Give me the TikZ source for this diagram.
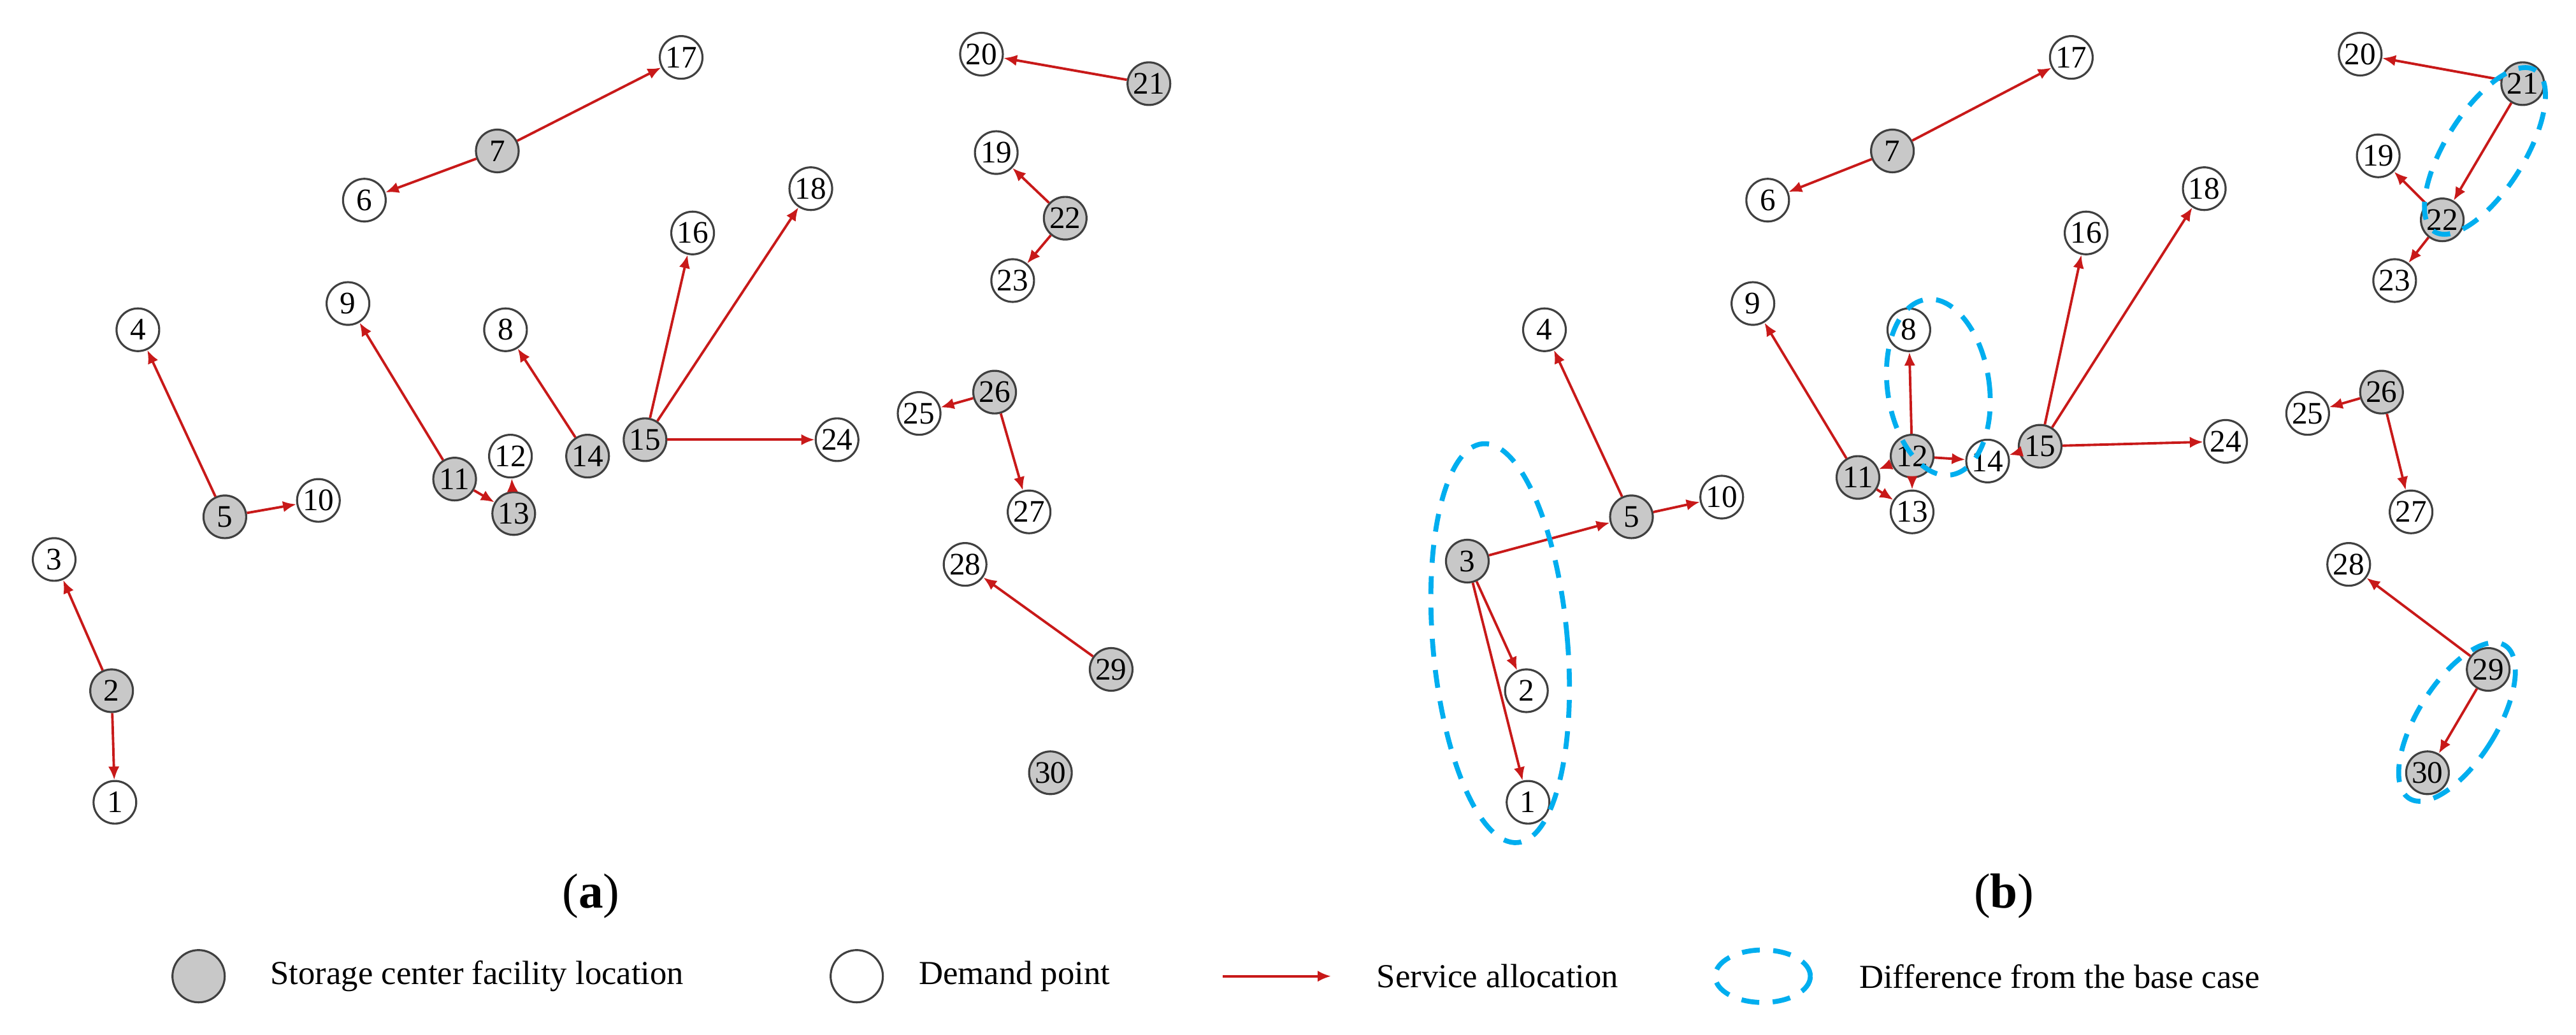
\documentclass[tikz,border=0pt]{standalone}
\usepackage{fontspec}
\setmainfont{Liberation Serif}
\usetikzlibrary{arrows.meta}
\definecolor{ared}{RGB}{200,25,25}
\definecolor{fgray}{RGB}{200,200,200}
\definecolor{dblue}{RGB}{0,174,239}
\begin{document}
\begin{tikzpicture}[x=0.02576cm,y=-0.02576cm,
  dem/.style={circle,draw=black!75,line width=0.9pt,fill=white,minimum size=0.67cm,inner sep=0pt,font=\fontsize{14}{14}\selectfont},
  fac/.style={dem,fill=fgray},
  arr/.style={draw=ared,line width=1.1pt,-{Latex[length=6pt,width=5pt]}},
  diff/.style={draw=dblue,line width=2.2pt,dash pattern=on 8pt off 6pt},
  leg/.style={anchor=west,font=\fontsize{15}{15}\selectfont}]
\useasboundingbox (0,0) rectangle (1569.5,630.8);
% panel (a)
\foreach \n/\x/\y/\s in {1/70/489/dem,2/68/421/fac,3/33/341/dem,4/84/201/dem,5/137/315/fac,6/222/122/dem,7/303/92/fac,8/308/201/dem,9/212/185/dem,10/194/305/dem,11/277/292/fac,12/311/278/dem,13/313/313/fac,14/358/278/fac,15/393/268/fac,16/422/142/dem,17/415/35/dem,18/494/115/dem,19/607/93/dem,20/598/33/dem,21/700/51/fac,22/649/133/fac,23/617/171/dem,24/510/268/dem,25/560/252/dem,26/606/239/fac,27/627/312/dem,28/588/344/dem,29/677/408/fac,30/640/471/fac}
  \node[\s] (a\n) at (\x,\y) {\n};
% panel (b)
\foreach \n/\x/\y/\s in {1/931/489/dem,2/930/421/dem,3/894/342/fac,4/941/201/dem,5/994/315/fac,6/1077/122/dem,7/1153/92/fac,8/1163/201/dem,9/1068/185/dem,10/1049/303/dem,11/1132/291/fac,12/1165/278/fac,13/1165/312/dem,14/1211/281/dem,15/1243/272/fac,16/1271/142/dem,17/1262/35/dem,18/1343/115/dem,19/1449/95/dem,20/1438/33/dem,21/1537/51/fac,22/1488/134/fac,23/1459/171/dem,24/1356/269/dem,25/1406/252/dem,26/1451/239/fac,27/1469/312/dem,28/1431/344/dem,29/1516/408/fac,30/1479/471/fac}
  \node[\s] (b\n) at (\x,\y) {\n};
% arrows (a)
\foreach \f/\t in {7/17,7/6,21/20,22/19,22/23,15/16,15/18,15/24,14/8,11/9,11/13,13/12,5/4,5/10,2/3,2/1,26/25,26/27,29/28}
  \draw[arr] (a\f) -- (a\t);
% arrows (b)
\foreach \f/\t in {7/17,7/6,21/20,21/22,22/19,22/23,15/16,15/18,15/24,15/14,12/14,12/8,12/11,12/13,11/9,11/13,3/5,3/2,3/1,5/4,5/10,26/25,26/27,29/28,29/30}
  \draw[arr] (b\f) -- (b\t);
% difference ellipses
\draw[diff] (914,392) ellipse [x radius=41, y radius=122, rotate=5];
\draw[diff] (1181,236) ellipse [x radius=31, y radius=54, rotate=8];
\draw[diff] (1514,92) ellipse [x radius=24, y radius=58, rotate=-32];
\draw[diff] (1497,440) ellipse [x radius=24, y radius=55, rotate=-32];
% panel labels
\node[font=\fontsize{22}{22}\selectfont] (la) at (360,546) {(\textbf{a})};
\node[font=\fontsize{22}{22}\selectfont] (lb) at (1221,546) {(\textbf{b})};
% legend
\node[fac,minimum size=0.82cm] (lg1) at (121,595) {};
\node[leg] (lt1) at (160,595) {Storage center facility location};
\node[dem,minimum size=0.82cm] (lg2) at (522,595) {};
\node[leg] (lt2) at (555,595) {Demand point};
\coordinate (lg3a) at (745,595);
\coordinate (lg3b) at (811,595);
\draw[arr] (lg3a) -- (lg3b);
\node[leg] (lt3) at (834,595) {Service allocation};
\draw[diff] (1074,595) ellipse [x radius=29, y radius=16];
\node[leg] (lt4) at (1128,595) {Difference from the base case};
\end{tikzpicture}
\end{document}
